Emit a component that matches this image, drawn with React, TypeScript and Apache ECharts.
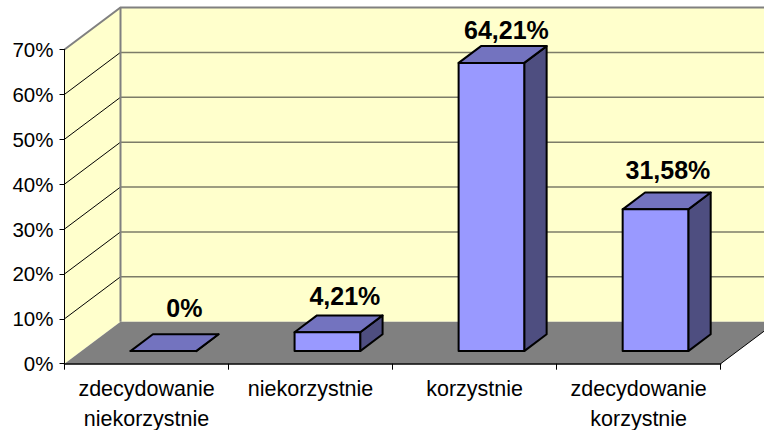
import React, { useEffect, useRef } from "react";
import * as echarts from "echarts";

const categories = ["zdecydowanie\nniekorzystnie", "niekorzystnie", "korzystnie", "zdecydowanie\nkorzystnie"];
const values = [0, 4.21, 64.21, 31.58];
const valueLabels = ["0%", "4,21%", "64,21%", "31,58%"];
const yTicks = [0, 10, 20, 30, 40, 50, 60, 70];

const FONT = '"Liberation Sans", Arial, sans-serif';
const DEPTH_X = 56;
const DEPTH_Y = 42;
const labelNudgeX = [21, 17.5, 15, 12.5];
const labelNudgeY = [18, 11, 8, 14];

function renderWalls(params: any, api: any) {
  const cs = params.coordSys;
  const left = cs.x, right = cs.x + cs.width, top = cs.y, bottom = cs.y + cs.height;
  const backRight = right + DEPTH_X;
  const children: any[] = [
    { type: "polygon", shape: { points: [[left + DEPTH_X, top - DEPTH_Y], [backRight, top - DEPTH_Y], [backRight, bottom - DEPTH_Y], [left + DEPTH_X, bottom - DEPTH_Y]] }, style: { fill: "#FFFFCC" } },
    { type: "polygon", shape: { points: [[left, top], [left + DEPTH_X, top - DEPTH_Y], [left + DEPTH_X, bottom - DEPTH_Y], [left, bottom]] }, style: { fill: "#FFFFCC" } },
    { type: "polygon", shape: { points: [[left, bottom], [left + DEPTH_X, bottom - DEPTH_Y], [backRight, bottom - DEPTH_Y], [right, bottom]] }, style: { fill: "#808080" } },
    { type: "line", shape: { x1: right, y1: bottom, x2: backRight, y2: bottom - DEPTH_Y }, style: { stroke: "#000", lineWidth: 1 } },
  ];
  yTicks.forEach((t) => {
    if (t === 0) return;
    const y = api.coord([0, t])[1];
    if (t < 70) {
      children.push({ type: "line", shape: { x1: left, y1: y, x2: left + DEPTH_X, y2: y - DEPTH_Y }, style: { stroke: "#000", lineWidth: 1 } });
      children.push({ type: "line", shape: { x1: left + DEPTH_X, y1: y - DEPTH_Y, x2: backRight, y2: y - DEPTH_Y }, style: { stroke: "#7c7c68", lineWidth: 1.5 } });
    }
  });
  children.push({ type: "polyline", shape: { points: [[left, top], [left + DEPTH_X, top - DEPTH_Y], [backRight, top - DEPTH_Y]] }, style: { stroke: "#808080", lineWidth: 2, fill: "none" } });
  children.push({ type: "line", shape: { x1: left + DEPTH_X, y1: top - DEPTH_Y, x2: left + DEPTH_X, y2: bottom - DEPTH_Y }, style: { stroke: "#808080", lineWidth: 2 } });
  return { type: "group", children };
}

function renderBar(params: any, api: any) {
  const i = params.dataIndex;
  const base = api.coord([api.value(0), 0]);
  const head = api.coord([api.value(0), api.value(1)]);
  const w = api.size([1, 0])[0] / 2.5;
  const ox = DEPTH_X * 0.3, oy = DEPTH_Y * 0.3;
  const dx = DEPTH_X * 0.4, dy = DEPTH_Y * 0.4;
  const x0 = base[0] - w / 2 + ox, x1 = x0 + w;
  const yb = base[1] - oy, yt = head[1] - oy;
  const stroke = { stroke: "#000", lineWidth: 2, lineJoin: "round" };
  return {
    type: "group",
    children: [
      { type: "polygon", shape: { points: [[x1, yb], [x1 + dx, yb - dy], [x1 + dx, yt - dy], [x1, yt]] }, style: { fill: "#4E4E80", ...stroke } },
      { type: "polygon", shape: { points: [[x0, yt], [x0 + dx, yt - dy], [x1 + dx, yt - dy], [x1, yt]] }, style: { fill: "#7373BF", ...stroke } },
      { type: "polygon", shape: { points: [[x0, yb], [x1, yb], [x1, yt], [x0, yt]] }, style: { fill: "#9999FF", ...stroke } },
      {
        type: "text",
        style: {
          text: valueLabels[i],
          x: base[0] + ox + labelNudgeX[i],
          y: yt - dy - labelNudgeY[i] + 4,
          align: "center",
          verticalAlign: "bottom",
          font: `bold 25px ${FONT}`,
          fill: "#000",
        },
      },
    ],
  };
}

export default function App() {
  const ref = useRef<HTMLDivElement>(null);
  useEffect(() => {
    document.body.style.margin = "0";
    const chart = echarts.init(ref.current!, undefined, { renderer: "svg" });
    chart.setOption({
      animation: false,
      backgroundColor: "#fff",
      grid: { left: 64.5, top: 49.5, right: 43.3, bottom: 66.3, outerBoundsMode: "none" },
      xAxis: {
        type: "category",
        data: categories,
        z: 10,
        axisLine: { lineStyle: { color: "#000", width: 1.5 } },
        axisTick: { show: true, length: 6, lineStyle: { color: "#000", width: 1 } },
        axisLabel: { interval: 0, color: "#000", fontFamily: FONT, fontSize: 21.5, lineHeight: 30, margin: 10 },
      },
      yAxis: {
        type: "value",
        min: 0,
        max: 70,
        interval: 10,
        z: 10,
        splitLine: { show: false },
        axisLine: { show: true, lineStyle: { color: "#000", width: 1 } },
        axisTick: { show: true, length: 5, lineStyle: { color: "#000", width: 1 } },
        axisLabel: { formatter: "{value}%", color: "#000", fontFamily: FONT, fontSize: 20.5, margin: 11, padding: [0, 0, 2, 0] },
      },
      series: [
        { type: "custom", z: 1, renderItem: renderWalls, data: [[0, 0]], encode: { x: 0, y: 1 }, silent: true },
        { type: "custom", z: 3, renderItem: renderBar, data: values.map((v, i) => [i, v]), encode: { x: 0, y: 1 }, silent: true },
      ],
    });
    return () => chart.dispose();
  }, []);
  return <div ref={ref} style={{ width: 764, height: 430, overflow: "hidden" }} />;
}
